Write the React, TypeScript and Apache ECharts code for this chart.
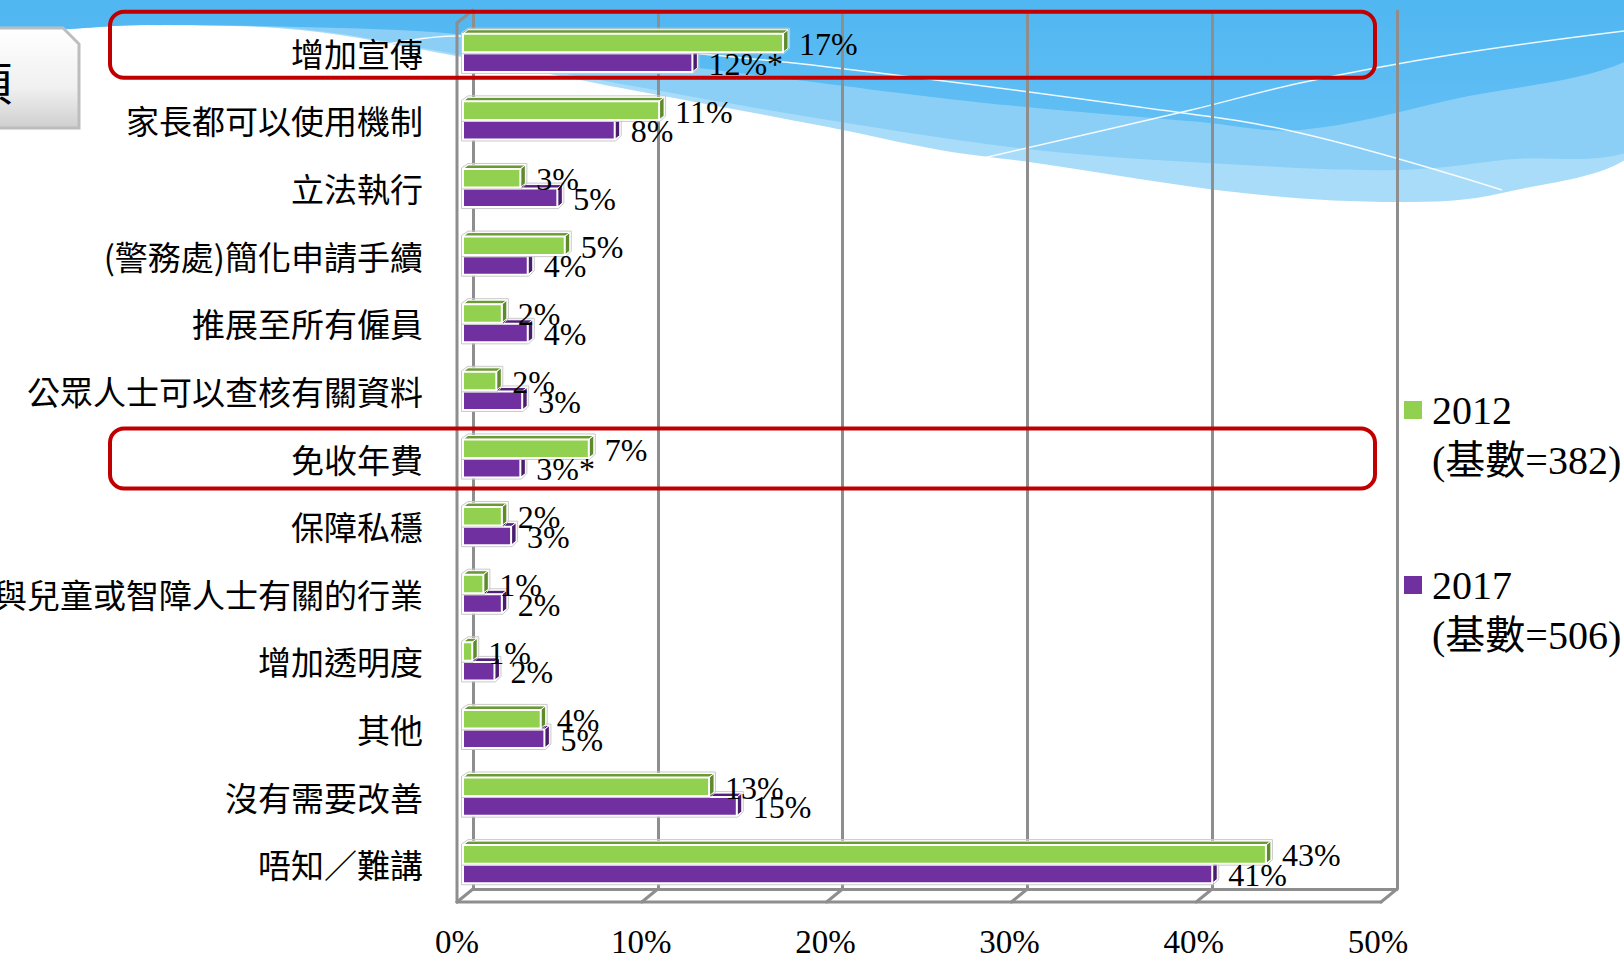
import React, { useEffect, useRef } from 'react';
import * as echarts from 'echarts';

const categories = [
  '增加宣傳',
  '家長都可以使用機制',
  '立法執行',
  '(警務處)簡化申請手續',
  '推展至所有僱員',
  '公眾人士可以查核有關資料',
  '免收年費',
  '保障私穩',
  '與兒童或智障人士有關的行業',
  '增加透明度',
  '其他',
  '沒有需要改善',
  '唔知／難講',
];

const values2012 = [17.3, 10.6, 3.1, 5.5, 2.1, 1.8, 6.8, 2.1, 1.1, 0.5, 4.2, 13.3, 43.4];
const values2017 = [12.4, 8.2, 5.1, 3.5, 3.5, 3.2, 3.1, 2.6, 2.1, 1.7, 4.4, 14.8, 40.5];

const labels2012 = ['17%', '11%', '3%', '5%', '2%', '2%', '7%', '2%', '1%', '1%', '4%', '13%', '43%'];
const labels2017 = ['12%*', '8%', '5%', '4%', '4%', '3%', '3%*', '3%', '2%', '2%', '5%', '15%', '41%'];

const xTicks = [0, 10, 20, 30, 40, 50];
const legendNames = ['2012', '2017'];
const legendBases = ['(基數=382)', '(基數=506)'];
const highlighted = [0, 6];

const GREEN = '#92D050';
const GREEN_TOP = '#6B9A35';
const GREEN_SIDE = '#5E8A2A';
const PURPLE = '#7030A0';
const PURPLE_TOP = '#52217A';
const PURPLE_SIDE = '#4A1C6E';
const GRAY = '#8E8E8E';
const SERIF = '"Liberation Serif", "Times New Roman", serif';
const CJK = '"Noto Sans CJK TC", "Noto Sans CJK SC", sans-serif';

const DX = 5;
const DY = 4;
const WALL_DX = -16;
const WALL_DY = 13;

function barRenderer(isGreen: boolean, labels: string[], front: string, top: string, side: string) {
  return (params: any, api: any) => {
    const idx = params.dataIndex;
    const val = api.value(0);
    const cat = api.value(1);
    const s = api.coord([0, cat]);
    const e = api.coord([val, cat]);
    const band = api.size([0, 1])[1];
    const h = band * 0.274;
    const g = band * 0.008;
    const yT = isGreen ? s[1] - g - h : s[1] + g;
    const yB = yT + h;
    const x0 = s[0];
    const x1 = e[0];
    const z2 = isGreen ? 4 : 2;
    return {
      type: 'group',
      children: [
        {
          type: 'polygon',
          z2,
          shape: { points: [[x0, yT], [x0 + DX, yT - DY], [x1 + DX, yT - DY], [x1, yT]] },
          style: { fill: top, stroke: '#FFFFFF', lineWidth: 1 },
        },
        {
          type: 'polygon',
          z2,
          shape: { points: [[x1, yT], [x1 + DX, yT - DY], [x1 + DX, yB - DY], [x1, yB]] },
          style: { fill: side, stroke: '#FFFFFF', lineWidth: 1 },
        },
        {
          type: 'rect',
          z2,
          shape: { x: x0, y: yT, width: x1 - x0, height: h },
          style: { fill: front, stroke: '#FFFFFF', lineWidth: 2 },
        },
        {
          type: 'polygon',
          z2,
          shape: {
            points: [
              [x0 - 1.5, yT - 1],
              [x0 + DX, yT - DY - 1.5],
              [x1 + DX + 1.5, yT - DY - 1.5],
              [x1 + DX + 1.5, yB - DY],
              [x1 + 1, yB + 1.5],
              [x0 - 1.5, yB + 1.5],
            ],
          },
          style: { fill: 'none', stroke: '#C9C9C9', lineWidth: 1 },
        },
        {
          type: 'text',
          z2: 10,
          style: {
            text: labels[idx],
            x: x1 + 16,
            y: (yT + yB) / 2 + 1,
            align: 'left',
            verticalAlign: 'middle',
            fontSize: 32,
            fontFamily: SERIF,
            fill: '#000000',
          },
        },
      ],
    };
  };
}

function frameRenderer(params: any, api: any) {
  const v = api.value(0);
  const b = api.coord([v, 0]);
  const ls = { stroke: GRAY, lineWidth: 3, lineCap: 'round' };
  const children: any[] = [
    { type: 'line', shape: { x1: b[0], y1: b[1], x2: b[0] + WALL_DX, y2: b[1] + WALL_DY }, style: ls },
  ];
  if (params.dataIndex === 0) {
    const t = api.coord([v, 1]);
    const end = api.coord([xTicks[xTicks.length - 1], 0]);
    children.push(
      { type: 'line', shape: { x1: t[0], y1: t[1], x2: t[0] + WALL_DX, y2: t[1] + WALL_DY }, style: ls },
      { type: 'line', shape: { x1: t[0] + WALL_DX, y1: t[1] + WALL_DY, x2: b[0] + WALL_DX, y2: b[1] + WALL_DY }, style: ls },
      { type: 'line', shape: { x1: b[0] + WALL_DX, y1: b[1] + WALL_DY, x2: end[0] + WALL_DX, y2: end[1] + WALL_DY }, style: ls },
    );
  }
  return { type: 'group', children };
}

const background: any[] = [
  {
    type: 'polygon',
    z: -10,
    silent: true,
    shape: {
      smooth: 0.35,
      points: [
        [-20, -20], [1644, -20], [1644, 142], [1502, 193], [1398, 202], [1243, 193], [1036, 163],
        [940, 150], [828, 127], [621, 88], [456, 56], [300, 30], [150, 25], [-20, 25],
      ],
    },
    style: { fill: '#A9DCF9' },
  },
  {
    type: 'polygon',
    z: -9,
    silent: true,
    shape: {
      smooth: 0.35,
      points: [
        [-20, -20], [1644, -20], [1644, 140], [1502, 160], [1398, 170], [1243, 165], [1036, 150],
        [828, 120], [621, 84], [456, 54], [300, 29], [150, 25], [-20, 25],
      ],
    },
    style: { fill: '#8BCFF7' },
  },
  {
    type: 'polygon',
    z: -8,
    silent: true,
    shape: {
      smooth: 0.35,
      points: [
        [-20, -20], [1644, -20], [1644, 52], [1450, 100], [1300, 130], [1200, 122], [1036, 108],
        [940, 98], [828, 84], [621, 58], [456, 34], [300, 27], [150, 25], [-20, 25],
      ],
    },
    style: {
      fill: new echarts.graphic.LinearGradient(0, 0, 0, 1, [
        { offset: 0, color: '#4BB4F0' },
        { offset: 1, color: '#62BFF4' },
      ]),
    },
  },
  {
    type: 'polyline',
    z: -7,
    silent: true,
    shape: {
      smooth: 0.4,
      points: [[383, 45], [456, 36], [600, 45], [828, 67], [1139, 107], [1300, 133], [1502, 190]],
    },
    style: { stroke: 'rgba(255,255,255,0.9)', lineWidth: 1.5, fill: null },
  },
  {
    type: 'polyline',
    z: -7,
    silent: true,
    shape: {
      smooth: 0.4,
      points: [[953, 165], [1191, 110], [1300, 83], [1450, 55], [1624, 31]],
    },
    style: { stroke: 'rgba(255,255,255,0.9)', lineWidth: 1.5, fill: null },
  },
  {
    type: 'polygon',
    z: -6,
    silent: true,
    shape: { points: [[-10, 28], [63, 28], [79, 44], [79, 128], [-10, 128]] },
    style: {
      fill: new echarts.graphic.LinearGradient(0, 0, 0, 1, [
        { offset: 0, color: '#FFFFFF' },
        { offset: 0.6, color: '#F0F0F0' },
        { offset: 1, color: '#CFCFCF' },
      ]),
      stroke: '#BDBDBD',
      lineWidth: 3,
    },
  },
  {
    type: 'text',
    z: -5,
    silent: true,
    style: {
      text: '項',
      x: 12,
      y: 80,
      align: 'right',
      verticalAlign: 'middle',
      fontSize: 46,
      fontFamily: CJK,
      fill: '#000000',
    },
  },
];

export default function App() {
  const ref = useRef<HTMLDivElement>(null);

  useEffect(() => {
    if (!ref.current) return;
    const chart = echarts.init(ref.current, undefined, { renderer: 'svg' });
    const xMax = xTicks[xTicks.length - 1];
    const option: any = {
      animation: false,
      backgroundColor: '#FFFFFF',
      grid: [
        { left: 473, top: 10, width: 924, height: 879, outerBoundsMode: 'none', containLabel: false },
        { left: 457, top: 23, width: 921, height: 879, outerBoundsMode: 'none', containLabel: false },
        { left: 463, top: 19, width: 925, height: 879, outerBoundsMode: 'none', containLabel: false },
      ],
      xAxis: [
        {
          gridIndex: 0,
          type: 'value',
          min: 0,
          max: xMax,
          interval: 10,
          axisLine: { show: true, onZero: false, lineStyle: { color: GRAY, width: 3 } },
          axisTick: { show: false },
          axisLabel: { show: false },
          splitLine: { show: true, lineStyle: { color: GRAY, width: 3 } },
        },
        {
          gridIndex: 1,
          type: 'value',
          min: 0,
          max: xMax,
          interval: 10,
          axisLine: { show: false },
          axisTick: { show: false },
          splitLine: { show: false },
          axisLabel: {
            formatter: '{value}%',
            fontSize: 33,
            fontFamily: SERIF,
            color: '#000000',
            margin: 23,
          },
        },
        {
          gridIndex: 2,
          type: 'value',
          min: 0,
          max: xMax,
          show: false,
        },
      ],
      yAxis: [
        { gridIndex: 0, type: 'value', min: 0, max: 1, show: false },
        { gridIndex: 1, type: 'value', min: 0, max: 1, show: false },
        {
          gridIndex: 2,
          type: 'category',
          data: categories,
          inverse: true,
          axisLine: { show: false },
          axisTick: { show: false },
          splitLine: { show: false },
          axisLabel: {
            fontSize: 33,
            fontFamily: CJK,
            color: '#000000',
            margin: 40,
            padding: [12, 0, 0, 0],
          },
        },
      ],
      legend: {
        orient: 'vertical',
        left: 1404,
        top: 335,
        padding: 0,
        itemGap: 25,
        itemWidth: 18,
        itemHeight: 18,
        selectedMode: false,
        data: [
          { name: legendNames[0], icon: 'rect', itemStyle: { color: GREEN } },
          { name: legendNames[1], icon: 'rect', itemStyle: { color: PURPLE } },
        ],
        formatter: (name: string) => '\n' + name + '\n' + legendBases[legendNames.indexOf(name)],
        textStyle: {
          fontSize: 40,
          fontFamily: SERIF + ', ' + CJK,
          color: '#000000',
          lineHeight: 50,
          padding: [0, 0, 0, 5],
        },
      },
      series: [
        {
          type: 'custom',
          name: 'frame',
          xAxisIndex: 0,
          yAxisIndex: 0,
          silent: true,
          clip: false,
          z: 1,
          data: xTicks.map((v) => [v, 0]),
          encode: { x: 0, y: 1 },
          renderItem: frameRenderer,
        },
        {
          type: 'custom',
          name: legendNames[1],
          xAxisIndex: 2,
          yAxisIndex: 2,
          clip: false,
          z: 3,
          itemStyle: { color: PURPLE },
          data: values2017.map((v, i) => [v, i]),
          encode: { x: 0, y: 1 },
          renderItem: barRenderer(false, labels2017, PURPLE, PURPLE_TOP, PURPLE_SIDE),
        },
        {
          type: 'custom',
          name: legendNames[0],
          xAxisIndex: 2,
          yAxisIndex: 2,
          clip: false,
          z: 3,
          itemStyle: { color: GREEN },
          data: values2012.map((v, i) => [v, i]),
          encode: { x: 0, y: 1 },
          renderItem: barRenderer(true, labels2012, GREEN, GREEN_TOP, GREEN_SIDE),
        },
      ],
      graphic: background,
    };
    chart.setOption(option);

    const boxes = highlighted.map((ci, k) => {
      const cy = chart.convertToPixel({ yAxisIndex: 2 } as any, categories[ci]) as number;
      const top = k === 0 ? cy - 41 : cy - 30;
      const h = k === 0 ? 66 : 60;
      return {
        type: 'rect',
        z: 20,
        silent: true,
        shape: { x: 110, y: top, width: 1265, height: h, r: 14 },
        style: { fill: 'none', stroke: '#C00000', lineWidth: 4 },
      };
    });
    chart.setOption({ graphic: [...background, ...boxes] });

    return () => {
      chart.dispose();
    };
  }, []);

  return (
    <div
      ref={ref}
      style={{ position: 'fixed', left: 0, top: 0, width: 1624, height: 959, overflow: 'hidden' }}
    />
  );
}
